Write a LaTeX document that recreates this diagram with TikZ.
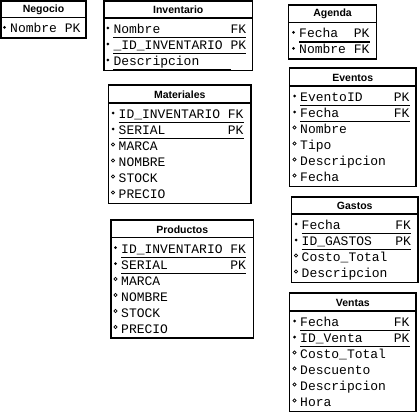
\documentclass[tikz,border=0pt]{standalone}
\usepackage{fontspec}
\setmainfont{Liberation Sans}
\newfontfamily\monof{Liberation Mono}
\tikzset{
  x=1pt, y=-1pt,
  boxline/.style={draw=black, line width=1.8pt},
  divline/.style={draw=black, line width=1.2pt},
  uline/.style={draw=black, line width=1pt},
  titletext/.style={font=\bfseries\fontsize{10.5}{12}\selectfont, inner sep=0pt, anchor=center},
  rowtext/.style={font=\monof\fontsize{13}{15}\selectfont, inner sep=0pt, anchor=base west},
  keydot/.style={fill=black},
  attdot/.style={draw=black, line width=0.6pt}
}
% #1 id, #2 left, #3 right, #4 top, #5 divider, #6 rows, #7 text x, #8 title, #9 rows list
\newcommand\ertab[9]{%
  \pgfmathsetmacro\ebot{#5+16*#6+4.5}
  \draw[boxline] (#2,#4) rectangle (#3,\ebot);
  \draw[divline] (#2,#5) -- (#3,#5);
  \node[titletext] (#1-title) at ({(#2+#3)/2},{(#4+#5)/2+0.5}) {#8};
  \foreach[count=\i] \rk/\rtxt in {#9}{
    \pgfmathsetmacro\by{#5+15.5+16*(\i-1)}
    \node[rowtext] (#1-\i) at (#7,\by) {\rtxt};
    \ifnum\rk=1
      \fill[keydot] (#7-5.5,\by-5.5) circle (1.5pt);
      \draw[uline] ([yshift=-4.2pt]#1-\i.base west) -- ([yshift=-4.2pt]#1-\i.base east);
    \else
      \draw[attdot] (#7-5.5,\by-6) circle (1.6pt);
    \fi
  }
}
\begin{document}
\begin{tikzpicture}
\useasboundingbox (0,0) rectangle (419,412);
\fill[white] (0,0) rectangle (419,412);
\ertab{neg}{1}{86}{1}{17.5}{1}{10}{Negocio}{1/{Nombre~PK}}
\ertab{inv}{104}{252.5}{1}{18}{3}{113.3}{Inventario}{1/{Nombre~~~~~~~~~FK},1/{\_ID\_INVENTARIO~PK},1/{Descripcion\hphantom{XXXX}}}
\ertab{mat}{108.5}{251}{85}{103}{6}{118.5}{Materiales}{1/{ID\_INVENTARIO~FK},1/{SERIAL~~~~~~~~PK},0/MARCA,0/NOMBRE,0/STOCK,0/PRECIO}
\ertab{pro}{111}{253.5}{220}{237.5}{6}{121}{Productos}{1/{ID\_INVENTARIO~FK},1/{SERIAL~~~~~~~~PK},0/MARCA,0/NOMBRE,0/STOCK,0/PRECIO}
\ertab{age}{288.5}{376.5}{5}{22.3}{2}{299}{Agenda}{1/{Fecha~~PK},1/{Nombre~FK}}
\ertab{eve}{289.5}{416}{68}{86}{6}{300}{Eventos}{1/{EventoID~~~~PK},1/{Fecha~~~~~~~FK},0/Nombre,0/Tipo,0/Descripcion,0/Fecha}
\ertab{gas}{291.5}{418}{197}{214}{4}{301.5}{Gastos}{1/{Fecha~~~~~~~FK},1/{ID\_GASTOS~~~PK},0/{Costo\_Total},0/Descripcion}
\ertab{ven}{289.5}{416}{293}{311}{6}{300}{Ventas}{1/{Fecha~~~~~~~FK},1/{ID\_Venta~~~~PK},0/{Costo\_Total},0/Descuento,0/Descripcion,0/Hora}
\end{tikzpicture}
\end{document}
